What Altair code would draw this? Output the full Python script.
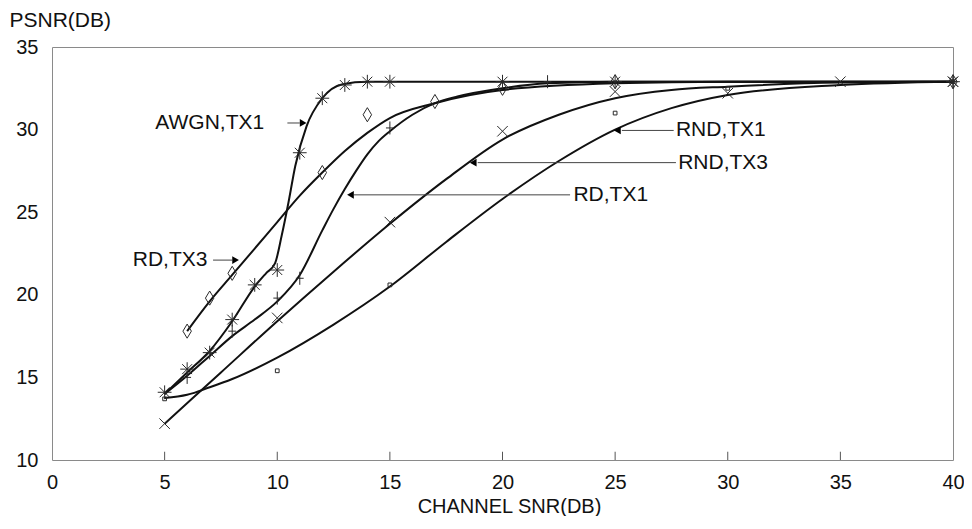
import altair as alt
import pandas as pd

FONT = "Liberation Sans"

# ---------------- curves (smooth fitted lines) ----------------
awgn_tx1_x = [5, 6, 7, 8, 9, 9.5, 9.9, 10.2, 10.5, 10.8, 11.3, 12, 12.9, 14, 15, 20, 25, 30, 35, 40]
awgn_tx1_y = [14.0, 15.3, 16.6, 18.4, 20.5, 21.3, 21.9, 23.6, 25.6, 27.8, 30.2, 31.9, 32.75, 32.9, 32.9, 32.9, 32.9, 32.9, 32.9, 32.9]

rd_tx3_x = [6, 7, 8, 9, 10, 11, 12, 13, 14, 15, 17, 20, 25, 30, 40]
rd_tx3_y = [17.8, 19.6, 21.2, 22.8, 24.4, 26.0, 27.4, 28.7, 29.8, 30.7, 31.6, 32.4, 32.8, 32.9, 32.9]

rd_tx1_x = [5, 6, 7, 8, 9, 10, 11, 12, 12.5, 13, 13.5, 14, 14.5, 15, 16, 17, 18, 20, 22, 25, 40]
rd_tx1_y = [14.0, 15.1, 16.3, 17.5, 18.5, 19.6, 21.2, 23.9, 25.2, 26.4, 27.5, 28.5, 29.3, 29.9, 30.9, 31.6, 32.0, 32.5, 32.8, 32.9, 32.9]

rnd_tx3_x = [5, 7.5, 10, 12.5, 15, 17.5, 20, 22.5, 25, 27.5, 30, 35, 40]
rnd_tx3_y = [12.2, 15.3, 18.4, 21.4, 24.3, 27.0, 29.4, 30.9, 31.9, 32.4, 32.6, 32.85, 32.9]

rnd_tx1_x = [5, 6, 7, 8, 10, 12.5, 15, 17.5, 20, 22.5, 25, 27.5, 30, 35, 40]
rnd_tx1_y = [13.75, 13.95, 14.4, 14.9, 16.2, 18.2, 20.5, 23.2, 25.8, 28.1, 30.0, 31.3, 32.1, 32.7, 32.9]

# ---------------- measured markers ----------------
star_x = [5, 6, 7, 8, 9, 10, 11, 12, 13, 14, 15, 20, 25, 40]
star_y = [14.1, 15.5, 16.5, 18.5, 20.6, 21.5, 28.6, 31.9, 32.7, 32.9, 32.9, 32.9, 32.9, 32.9]

diamond_x = [6, 7, 8, 12, 14, 17, 20, 25, 40]
diamond_y = [17.8, 19.8, 21.3, 27.4, 30.9, 31.7, 32.5, 32.9, 32.9]

plus_x = [6, 8, 10, 11, 15, 22, 40]
plus_y = [15.0, 17.8, 19.8, 21.0, 30.1, 32.9, 32.9]

cross_x = [5, 10, 15, 20, 25, 30, 35, 40]
cross_y = [12.2, 18.6, 24.4, 29.9, 32.3, 32.2, 32.9, 32.9]

square_x = [5, 10, 15, 25, 30, 40]
square_y = [13.7, 15.4, 20.6, 31.0, 32.5, 32.9]

# ---------------- annotations ----------------
ann_text = ["AWGN,TX1", "RD,TX3", "RD,TX1", "RND,TX3", "RND,TX1"]
ann_tx = [9.42, 6.9, 23.15, 27.8, 27.7]
ann_ty = [30.4, 22.1, 26.05, 28.0, 29.95]
ann_align = ["right", "right", "left", "left", "left"]
ann_lx1 = [10.45, 7.15, 13.4, 18.9, 25.3]
ann_lx2 = [11.0, 8.0, 23.0, 27.7, 27.6]
ann_hx = [11.15, 8.15, 13.25, 18.7, 25.1]
ann_dir = ["right", "right", "left", "left", "left"]

x_ticks = [0, 5, 10, 15, 20, 25, 30, 35, 40]
y_ticks = [10, 15, 20, 25, 30, 35]
inner_ticks = [5, 10, 15, 20, 25, 30, 35]

# ---------------- tables ----------------
curves = pd.concat([
    pd.DataFrame({"snr": awgn_tx1_x, "psnr": awgn_tx1_y, "series": "AWGN,TX1"}),
    pd.DataFrame({"snr": rd_tx3_x, "psnr": rd_tx3_y, "series": "RD,TX3"}),
    pd.DataFrame({"snr": rd_tx1_x, "psnr": rd_tx1_y, "series": "RD,TX1"}),
    pd.DataFrame({"snr": rnd_tx3_x, "psnr": rnd_tx3_y, "series": "RND,TX3"}),
    pd.DataFrame({"snr": rnd_tx1_x, "psnr": rnd_tx1_y, "series": "RND,TX1"}),
])

ann = pd.DataFrame({"text": ann_text, "tx": ann_tx, "ty": ann_ty, "align": ann_align,
                    "lx1": ann_lx1, "lx2": ann_lx2, "hx": ann_hx, "dir": ann_dir})

xscale = alt.Scale(domain=[0, 40], nice=False, zero=False)
yscale = alt.Scale(domain=[10, 35], nice=False, zero=False)

x_axis = alt.Axis(values=x_ticks, labelFlush=False, labelPadding=12,
                  title="CHANNEL SNR(DB)", titleX=457, titleY=52,
                  titleAlign="center", titleBaseline="alphabetic", titleFontSize=20)
y_axis = alt.Axis(values=y_ticks, labelPadding=14, title="PSNR(DB)",
                  titleAngle=0, titleX=-43, titleY=-21,
                  titleAlign="left", titleBaseline="alphabetic")

lines = alt.Chart(curves).mark_line(
    interpolate="monotone", color="#111111", strokeWidth=2
).encode(
    x=alt.X("snr:Q", scale=xscale, axis=x_axis),
    y=alt.Y("psnr:Q", scale=yscale, axis=y_axis),
    detail="series:N",
)


def markers(xs, ys, shape, size, filled=False):
    df = pd.DataFrame({"snr": xs, "psnr": ys})
    return alt.Chart(df).mark_point(
        shape=shape, size=size, filled=filled, color="#2a2a2a",
        strokeWidth=1, opacity=1
    ).encode(x=alt.X("snr:Q", scale=xscale), y=alt.Y("psnr:Q", scale=yscale))


STAR = "M-1,0L1,0M0,-1L0,1M-0.72,-0.72L0.72,0.72M-0.72,0.72L0.72,-0.72"
XMARK = "M-1,-1L1,1M-1,1L1,-1"
PLUS = "M0,-1L0,1M-0.6,0L0.6,0"
DIAM = "M0,-1L0.6,0L0,1L-0.6,0Z"

m_star = markers(star_x, star_y, STAR, 190)
m_diam = markers(diamond_x, diamond_y, DIAM, 200)
m_plus = markers(plus_x, plus_y, PLUS, 170)
m_cross = markers(cross_x, cross_y, XMARK, 110)
m_square = markers(square_x, square_y, "square", 14)

conn = alt.Chart(ann).mark_rule(color="#444444", strokeWidth=1).encode(
    x=alt.X("lx1:Q", scale=xscale), x2="lx2:Q", y=alt.Y("ty:Q", scale=yscale)
)

heads_r = alt.Chart(ann).transform_filter(alt.datum.dir == "right").mark_point(
    shape="triangle-right", filled=True, size=60, color="#000000", opacity=1
).encode(x=alt.X("hx:Q", scale=xscale), y=alt.Y("ty:Q", scale=yscale))

heads_l = alt.Chart(ann).transform_filter(alt.datum.dir == "left").mark_point(
    shape="triangle-left", filled=True, size=60, color="#000000", opacity=1
).encode(x=alt.X("hx:Q", scale=xscale), y=alt.Y("ty:Q", scale=yscale))

txt_r = alt.Chart(ann).transform_filter(alt.datum.align == "right").mark_text(
    align="right", baseline="middle", font=FONT, fontSize=21, color="#111111"
).encode(x=alt.X("tx:Q", scale=xscale), y=alt.Y("ty:Q", scale=yscale), text="text:N")

txt_l = alt.Chart(ann).transform_filter(alt.datum.align == "left").mark_text(
    align="left", baseline="middle", font=FONT, fontSize=21, color="#111111"
).encode(x=alt.X("tx:Q", scale=xscale), y=alt.Y("ty:Q", scale=yscale), text="text:N")

tick_df = pd.DataFrame({"snr": inner_ticks, "y0": [10] * len(inner_ticks), "y1": [10.5] * len(inner_ticks)})
inner = alt.Chart(tick_df).mark_rule(color="#555555", strokeWidth=1).encode(
    x=alt.X("snr:Q", scale=xscale), y=alt.Y("y0:Q", scale=yscale), y2="y1:Q"
)

chart = alt.layer(
    inner, lines, m_square, m_cross, m_plus, m_diam, m_star,
    conn, heads_r, heads_l, txt_r, txt_l
).properties(
    width=901, height=413,
    padding={"left": 44, "top": 39, "right": 11, "bottom": 56},
    autosize=alt.AutoSizeParams(type="none"),
    background="white",
).configure_view(
    stroke="#8a8a8a", strokeWidth=1
).configure_axis(
    grid=False, domain=False, ticks=False, tickSize=0,
    labelFont=FONT, labelFontSize=20, labelColor="#111111",
    titleFont=FONT, titleFontSize=21, titleFontWeight="normal", titleColor="#111111",
)

chart.save("out.html", embed_options={"renderer": "svg", "actions": False})
